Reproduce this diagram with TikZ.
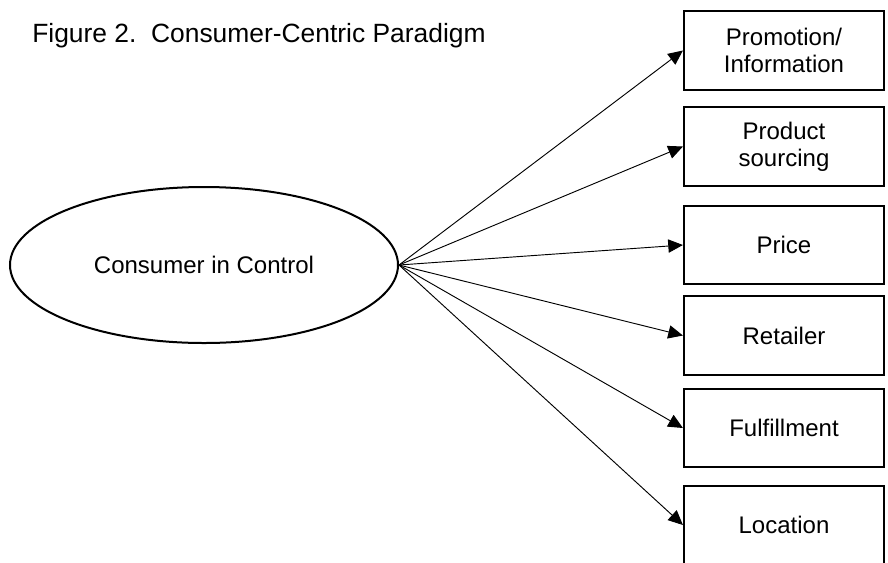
\documentclass[tikz,border=0pt]{standalone}
\usepackage{fontspec}
\setmainfont{Liberation Sans}
\usepackage{tikz}
\usetikzlibrary{arrows.meta,positioning,shapes.geometric}

\begin{document}
\begin{tikzpicture}[
  x=0.75pt,y=-0.75pt,
  box/.style={draw,line width=1.6pt,align=center,minimum width=150pt,
              minimum height=59pt,inner sep=0pt,font=\fontsize{18}{20}\selectfont},
  hub/.style={draw,ellipse,line width=1.5pt,minimum width=291pt,minimum height=117pt,
              inner sep=0pt,font=\fontsize{18}{20}\selectfont},
  flow/.style={-{Triangle[length=11pt,width=10pt]},line width=0.7pt}
]
\clip (0,0) rectangle (888,562);
\node[anchor=base west,inner sep=0pt,font=\fontsize{19.8}{22}\selectfont] (title) at (32,42)
  {Figure 2.\ \ Consumer-Centric Paradigm};
\node[hub] (cons) at (204,265) {Consumer in Control};
\node[box] (promo) at (784,50.5) {Promotion/\\Information};
\node[box] (sourcing) at (784,146.5) {Product\\sourcing};
\node[box] (price) at (784,245) {Price};
\node[box] (retailer) at (784,335.5) {Retailer};
\node[box] (fulfil) at (784,428) {Fulfillment};
\node[box] (location) at (784,525) {Location};
\foreach \target in {promo,sourcing,price,retailer,fulfil,location}
  \draw[flow] (cons.east) -- (\target.west);
\end{tikzpicture}
\end{document}
